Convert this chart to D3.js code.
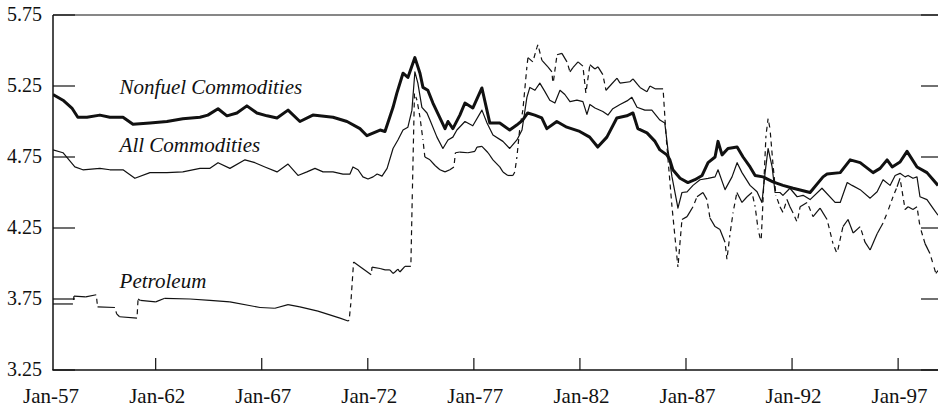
<!DOCTYPE html>
<html>
<head>
<meta charset="UTF-8">
<title>Commodity prices</title>
<style>
  body { margin: 0; background: #fff; }
  svg text { font-family: 'Liberation Serif', 'Times New Roman', serif; fill: #111; }
  .label { font-style: italic; font-size: 21px; }
</style>
</head>
<body>
<svg id="chart" width="938" height="410"></svg>
<script src="https://cdn.jsdelivr.net/npm/d3@7"></script>
<script>
// values: [year (decimal), log price index]
var nonfuelSeries = [
  [1957.16, 5.19], [1957.63, 5.15], [1958.05, 5.095], [1958.33, 5.03], [1958.76, 5.03],
  [1959.37, 5.045], [1959.84, 5.03], [1960.46, 5.03], [1960.93, 4.98], [1961.73, 4.99],
  [1962.53, 5.0], [1963.28, 5.02], [1964.09, 5.03], [1964.46, 5.045], [1964.94, 5.09],
  [1965.36, 5.04], [1965.83, 5.06], [1966.30, 5.11], [1966.77, 5.06], [1967.25, 5.04],
  [1967.72, 5.025], [1968.24, 5.08], [1968.80, 5.0], [1969.41, 5.045], [1970.36, 5.03],
  [1971.02, 5.0], [1971.63, 4.95], [1971.96, 4.9], [1972.58, 4.94], [1972.81, 4.93],
  [1973.19, 5.1], [1973.37, 5.2], [1973.66, 5.34], [1973.89, 5.31], [1974.22, 5.45],
  [1974.46, 5.34], [1974.60, 5.24], [1974.83, 5.22], [1975.07, 5.13], [1975.40, 5.025],
  [1975.64, 4.95], [1975.78, 5.0], [1976.01, 4.95], [1976.34, 5.045], [1976.58, 5.13],
  [1976.95, 5.095], [1977.38, 5.236], [1977.75, 4.99], [1978.22, 4.99], [1978.69, 4.94],
  [1979.02, 4.975], [1979.30, 5.01], [1979.54, 5.06], [1979.87, 5.045], [1980.20, 5.025],
  [1980.44, 4.95], [1980.91, 5.0], [1981.38, 4.96], [1981.99, 4.93], [1982.46, 4.89],
  [1982.84, 4.82], [1983.27, 4.89], [1983.74, 5.025], [1984.21, 5.04], [1984.50, 5.06],
  [1984.73, 4.95], [1985.16, 4.92], [1985.54, 4.86], [1985.77, 4.8], [1986.10, 4.765],
  [1986.24, 4.73], [1986.38, 4.66], [1986.72, 4.6], [1987.09, 4.57], [1987.42, 4.59],
  [1987.76, 4.62], [1988.04, 4.71], [1988.37, 4.75], [1988.51, 4.86], [1988.70, 4.765],
  [1988.98, 4.81], [1989.41, 4.82], [1989.69, 4.75], [1990.02, 4.68], [1990.26, 4.62],
  [1990.63, 4.61], [1991.10, 4.575], [1991.57, 4.55], [1992.05, 4.53], [1992.85, 4.50],
  [1993.46, 4.61], [1993.65, 4.63], [1994.27, 4.64], [1994.74, 4.73], [1995.21, 4.71],
  [1995.82, 4.64], [1996.15, 4.67], [1996.48, 4.73], [1996.72, 4.68], [1997.09, 4.715],
  [1997.42, 4.79], [1997.89, 4.68], [1998.36, 4.64], [1998.88, 4.55]
];

var allSeries = [
  [1957.16, 4.80], [1957.63, 4.78], [1958.19, 4.68], [1958.57, 4.66], [1959.37, 4.67],
  [1959.84, 4.66], [1960.46, 4.66], [1961.02, 4.60], [1961.73, 4.64], [1962.53, 4.64],
  [1963.28, 4.645], [1964.09, 4.67], [1964.56, 4.67], [1964.94, 4.71], [1965.50, 4.67],
  [1966.21, 4.73], [1966.68, 4.71], [1967.15, 4.68], [1967.72, 4.645], [1968.24, 4.70],
  [1968.71, 4.62], [1969.13, 4.645], [1969.51, 4.67], [1969.89, 4.645], [1970.36, 4.645],
  [1970.83, 4.63], [1971.16, 4.63], [1971.30, 4.68], [1971.54, 4.66], [1971.77, 4.61],
  [1972.01, 4.595], [1972.25, 4.61], [1972.44, 4.63], [1972.67, 4.615], [1972.91, 4.67],
  [1973.19, 4.81], [1973.42, 4.87], [1973.66, 4.94], [1973.89, 4.96], [1974.08, 5.08],
  [1974.22, 5.35], [1974.36, 5.27], [1974.55, 5.1], [1974.79, 5.06], [1974.93, 5.01],
  [1975.26, 4.89], [1975.54, 4.81], [1975.78, 4.87], [1976.01, 4.89], [1976.20, 4.94],
  [1976.58, 5.0], [1976.95, 4.97], [1977.38, 5.08], [1977.62, 4.99], [1977.90, 4.905],
  [1978.37, 4.86], [1978.69, 4.81], [1979.03, 4.87], [1979.27, 4.94], [1979.50, 5.17],
  [1979.64, 5.24], [1979.88, 5.22], [1980.11, 5.27], [1980.35, 5.21], [1980.58, 5.15],
  [1980.82, 5.13], [1981.06, 5.22], [1981.29, 5.19], [1981.53, 5.14], [1981.86, 5.15],
  [1982.14, 5.14], [1982.33, 5.05], [1982.47, 5.12], [1982.71, 5.095], [1983.08, 5.07],
  [1983.32, 5.045], [1983.55, 5.09], [1983.89, 5.12], [1984.22, 5.145], [1984.45, 5.17],
  [1984.69, 5.10], [1985.06, 5.08], [1985.39, 5.08], [1985.77, 5.01], [1986.00, 4.99],
  [1986.15, 4.80], [1986.34, 4.61], [1986.57, 4.43], [1986.62, 4.39], [1986.81, 4.50],
  [1987.05, 4.505], [1987.33, 4.55], [1987.66, 4.59], [1988.04, 4.60], [1988.37, 4.61],
  [1988.51, 4.66], [1988.84, 4.52], [1989.17, 4.61], [1989.41, 4.71], [1989.64, 4.64],
  [1990.02, 4.55], [1990.35, 4.505], [1990.58, 4.43], [1990.73, 4.64], [1990.87, 4.81],
  [1991.06, 4.68], [1991.20, 4.50], [1991.43, 4.50], [1991.57, 4.48], [1991.90, 4.53],
  [1992.24, 4.47], [1992.52, 4.48], [1992.85, 4.45], [1993.41, 4.53], [1994.03, 4.43],
  [1994.27, 4.43], [1994.60, 4.57], [1994.83, 4.55], [1995.21, 4.52], [1995.68, 4.46],
  [1996.01, 4.505], [1996.29, 4.59], [1996.62, 4.55], [1996.86, 4.62], [1997.09, 4.635],
  [1997.33, 4.61], [1997.47, 4.62], [1997.70, 4.60], [1997.89, 4.61], [1998.03, 4.47],
  [1998.36, 4.45], [1998.64, 4.39], [1998.88, 4.34]
];

var petroleumSeries = [
  [1957.16, 3.715], [1958.10, 3.715], [1958.15, 3.77], [1958.70, 3.765], [1959.20, 3.78],
  [1959.26, 3.695], [1960.08, 3.69], [1960.16, 3.645], [1960.30, 3.625], [1961.12, 3.615],
  [1961.17, 3.75], [1961.28, 3.74], [1962.0, 3.73],
  [1962.43, 3.755], [1963.62, 3.75], [1964.56, 3.74], [1965.50, 3.73], [1966.92, 3.69],
  [1967.62, 3.685], [1968.24, 3.71], [1968.80, 3.695], [1969.65, 3.665], [1970.69, 3.615],
  [1971.07, 3.595], [1971.12, 3.60], [1971.20, 3.72], [1971.33, 4.01], [1972.16, 3.92],
  [1972.20, 3.975], [1972.58, 3.965], [1972.81, 3.955], [1973.04, 3.955], [1973.19, 3.93],
  [1973.28, 3.94], [1973.42, 3.96], [1973.51, 3.94], [1973.75, 3.98], [1974.03, 3.98],
  [1974.10, 4.5], [1974.20, 5.2], [1974.32, 5.15], [1974.46, 5.03], [1974.60, 4.87],
  [1974.69, 4.75], [1974.93, 4.73], [1975.17, 4.69], [1975.40, 4.66], [1975.64, 4.645],
  [1975.87, 4.66], [1976.06, 4.68], [1976.13, 4.78], [1976.34, 4.785], [1976.72, 4.78],
  [1977.05, 4.79], [1977.15, 4.82], [1977.38, 4.825], [1977.67, 4.78], [1977.90, 4.73],
  [1978.22, 4.68], [1978.37, 4.645], [1978.60, 4.62], [1978.84, 4.62], [1978.93, 4.645],
  [1979.03, 4.75], [1979.17, 4.96], [1979.31, 5.08], [1979.50, 5.385], [1979.55, 5.45],
  [1979.78, 5.42], [1979.97, 5.52], [1980.02, 5.54], [1980.21, 5.43], [1980.49, 5.385],
  [1980.68, 5.35], [1980.73, 5.26], [1980.92, 5.47], [1981.15, 5.48], [1981.39, 5.42],
  [1981.53, 5.35], [1981.67, 5.38], [1981.91, 5.42], [1982.14, 5.39], [1982.28, 5.2],
  [1982.47, 5.4], [1982.71, 5.37], [1982.85, 5.385], [1983.08, 5.33], [1983.23, 5.22],
  [1983.41, 5.25], [1983.75, 5.305], [1983.89, 5.27], [1984.36, 5.28], [1984.50, 5.30],
  [1984.83, 5.24], [1985.16, 5.21], [1985.30, 5.25], [1985.54, 5.23], [1985.92, 5.23],
  [1986.06, 4.9], [1986.34, 4.4], [1986.62, 3.975], [1986.81, 4.31], [1987.05, 4.33],
  [1987.33, 4.40], [1987.52, 4.47], [1987.80, 4.50], [1987.99, 4.45], [1988.13, 4.32],
  [1988.37, 4.26], [1988.60, 4.24], [1988.84, 4.15], [1988.93, 4.03], [1989.07, 4.20],
  [1989.22, 4.36], [1989.40, 4.50], [1989.64, 4.43], [1989.88, 4.47], [1990.11, 4.50],
  [1990.26, 4.40], [1990.40, 4.24], [1990.54, 4.15], [1990.68, 4.60], [1990.77, 4.90],
  [1990.87, 5.02], [1990.96, 4.95], [1991.10, 4.70], [1991.24, 4.48], [1991.43, 4.40],
  [1991.57, 4.36], [1991.76, 4.45], [1991.90, 4.40], [1992.05, 4.355], [1992.24, 4.29],
  [1992.38, 4.40], [1992.71, 4.43], [1992.99, 4.33], [1993.32, 4.39], [1993.65, 4.31],
  [1993.93, 4.14], [1994.12, 4.07], [1994.40, 4.26], [1994.64, 4.31], [1994.88, 4.215],
  [1995.21, 4.26], [1995.44, 4.15], [1995.68, 4.095], [1996.01, 4.21], [1996.29, 4.285],
  [1996.48, 4.355], [1996.76, 4.47], [1996.95, 4.54], [1997.09, 4.60], [1997.33, 4.38],
  [1997.47, 4.40], [1997.70, 4.38], [1997.89, 4.40], [1998.03, 4.26], [1998.27, 4.14],
  [1998.50, 4.07], [1998.64, 4.0], [1998.78, 3.93], [1998.88, 3.95]
];

var yTicks = [3.25, 3.75, 4.25, 4.75, 5.25, 5.75];
var xTickYears = [1957, 1962, 1967, 1972, 1977, 1982, 1987, 1992, 1997];
var xTickLabels = ["Jan-57", "Jan-62", "Jan-67", "Jan-72", "Jan-77", "Jan-82", "Jan-87", "Jan-92", "Jan-97"];
var seriesLabels = [
  { name: "Nonfuel Commodities", t: 1960.3, v: 5.194 },
  { name: "All Commodities", t: 1960.3, v: 4.785 },
  { name: "Petroleum", t: 1960.3, v: 3.827 }
];

/// layout
var plotLeft = 53, plotRight = 943, plotTop = 15, plotBottom = 370;

var svg = d3.select("#chart");

var x = d3.scaleLinear().domain([1957.16, 1998.88]).range([plotLeft, 938]);
var y = d3.scaleLinear().domain([3.25, 5.75]).range([plotBottom, plotTop]);

svg.append("clipPath").attr("id", "plot")
  .append("rect").attr("x", plotLeft).attr("y", plotTop)
  .attr("width", plotRight - plotLeft).attr("height", plotBottom - plotTop);

// frame: left, top and bottom lines
var frame = svg.append("g").attr("stroke", "#111").attr("fill", "none");
frame.append("line").attr("x1", plotLeft).attr("x2", plotLeft).attr("y1", plotTop).attr("y2", plotBottom).attr("stroke-width", 1.5);
frame.append("line").attr("x1", plotLeft).attr("x2", plotRight).attr("y1", plotTop).attr("y2", plotTop).attr("stroke-width", 1.2);
frame.append("line").attr("x1", plotLeft - 0.7).attr("x2", plotRight).attr("y1", plotBottom).attr("y2", plotBottom).attr("stroke-width", 1.6);

// y ticks inside on both sides
yTicks.forEach(function(v) {
  frame.append("line").attr("x1", plotLeft).attr("x2", plotLeft + 22).attr("y1", y(v)).attr("y2", y(v)).attr("stroke-width", 1.2);
  frame.append("line").attr("x1", plotRight - 22).attr("x2", plotRight).attr("y1", y(v)).attr("y2", y(v)).attr("stroke-width", 1.2);
});

svg.append("g").selectAll("text").data(yTicks).enter().append("text")
  .attr("x", 42).attr("y", function(d) { return y(d) + 6; })
  .attr("text-anchor", "end").style("font-size", "20px")
  .text(function(d) { return d3.format(".2f")(d); });

// x ticks go up from the axis
xTickYears.forEach(function(t, i) {
  if (i > 0) {
    frame.append("line").attr("x1", x(t)).attr("x2", x(t)).attr("y1", plotBottom).attr("y2", plotBottom - 12).attr("stroke-width", 1.2);
  }
  svg.append("text").attr("x", x(t) + 1.5).attr("y", 403)
    .attr("text-anchor", "middle").style("font-size", "21px")
    .text(xTickLabels[i]);
});

var line = d3.line()
  .x(function(d) { return x(d[0]); })
  .y(function(d) { return y(d[1]); });

var lines = svg.append("g").attr("clip-path", "url(#plot)");

lines.append("path").datum(allSeries)
  .attr("d", line).attr("fill", "none")
  .attr("stroke", "#111").attr("stroke-width", 1.2).attr("stroke-linejoin", "round");

lines.append("path").datum(nonfuelSeries)
  .attr("d", line).attr("fill", "none")
  .attr("stroke", "#111").attr("stroke-width", 3).attr("stroke-linejoin", "round");

// petroleum: the dash restarts on each segment, so flat stretches look solid
// and steep monthly moves look dashed
var segs = d3.pairs(petroleumSeries);
lines.append("g").selectAll("line").data(segs).enter().append("line")
  .attr("x1", function(d) { return x(d[0][0]); })
  .attr("y1", function(d) { return y(d[0][1]); })
  .attr("x2", function(d) { return x(d[1][0]); })
  .attr("y2", function(d) { return y(d[1][1]); })
  .attr("stroke", "#111").attr("stroke-width", 1.2)
  .attr("stroke-dasharray", function(d) {
    var dx = x(d[1][0]) - x(d[0][0]), dy = y(d[1][1]) - y(d[0][1]);
    var months = Math.max(1, Math.round((d[1][0] - d[0][0]) * 12));
    return Math.hypot(dx, dy) / months > 5 ? "5,4" : null;
  })
  .attr("stroke-dashoffset", 5);

svg.append("g").selectAll("text").data(seriesLabels).enter().append("text")
  .attr("class", "label")
  .attr("x", function(d) { return x(d.t); })
  .attr("y", function(d) { return y(d.v); })
  .text(function(d) { return d.name; });
</script>
</body>
</html>
